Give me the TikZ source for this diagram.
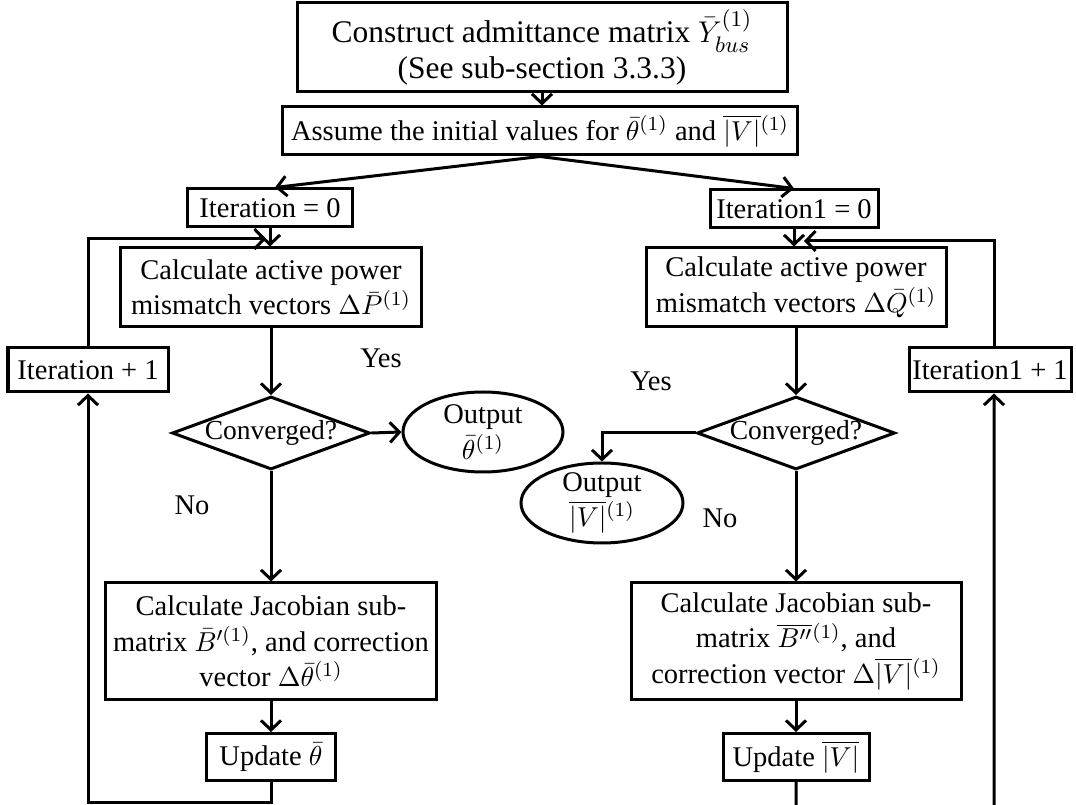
\documentclass[tikz,border=0pt]{standalone}
\usepackage{amsmath}
\usepackage{fontspec}
\setmainfont{Liberation Serif}
\usetikzlibrary{shapes.geometric,arrows.meta}
\newcommand\pxu{0.4pt}
\begin{document}
\begin{tikzpicture}[x=0.4pt,y=-0.4pt,
  font=\fontsize{11.4}{14.2}\selectfont,
  box/.style={draw, line width=1.2pt, rectangle, inner sep=0pt, align=center},
  dia/.style={draw, line width=1.2pt, diamond, inner sep=0pt},
  ell/.style={draw, line width=1.2pt, ellipse, inner sep=0pt},
  txt/.style={inner sep=0pt, align=center},
  arr/.style={line width=1.2pt, line join=miter, -{Straight Barb[length=3.8pt,width=8pt]}}]
\useasboundingbox (0,0) rectangle (1076,805);
% top part
\node[box, minimum width=490*\pxu, minimum height=89*\pxu, font=\fontsize{12.6}{14.5}\selectfont] (top) at (542,47.5)
  {Construct admittance matrix $\bar{Y}_{bus}^{(1)}$\\(See sub-section 3.3.3)};
\node[box, minimum width=515*\pxu, minimum height=48*\pxu] (asm) at (540,131)
  {Assume the initial values for $\bar{\theta}^{(1)}$ and $\overline{|V|}{}^{(1)}$};
\node[box, minimum width=165*\pxu, minimum height=38*\pxu] (it0) at (270,208) {Iteration = 0};
\node[box, minimum width=168*\pxu, minimum height=38*\pxu] (it1) at (794,209) {Iteration1 = 0};
% left column
\node[box, minimum width=301*\pxu, minimum height=79*\pxu] (calcL) at (271,287.5)
  {Calculate active power\\mismatch vectors $\Delta\bar{P}^{(1)}$};
\node[box, minimum width=160*\pxu, minimum height=44*\pxu] (itL) at (88,370) {Iteration + 1};
\node[dia, minimum width=198*\pxu, minimum height=73*\pxu,
  label={[txt, font=\fontsize{11}{13}\selectfont]center:Converged?}] (dL) at (271,433) {};
\node[ell, minimum width=160*\pxu, minimum height=80*\pxu,
  label={[txt]center:Output\\$\bar{\theta}^{(1)}$}] (eL) at (483,432) {};
\node[box, minimum width=331*\pxu, minimum height=117*\pxu] (jL) at (271,641.5)
  {Calculate Jacobian sub-\\matrix $\bar{B}'^{(1)}$, and correction\\vector $\Delta\bar{\theta}^{(1)}$};
\node[box, minimum width=129*\pxu, minimum height=47*\pxu] (uL) at (271,757) {Update $\bar{\theta}$};
% right column
\node[box, minimum width=300*\pxu, minimum height=79*\pxu] (calcR) at (796,287.5)
  {Calculate active power\\mismatch vectors $\Delta\bar{Q}^{(1)}$};
\node[box, minimum width=162*\pxu, minimum height=44*\pxu] (itR) at (990,370) {Iteration1 + 1};
\node[dia, minimum width=198*\pxu, minimum height=73*\pxu,
  label={[txt, font=\fontsize{11}{13}\selectfont]center:Converged?}] (dR) at (796,433) {};
\node[ell, minimum width=162*\pxu, minimum height=80*\pxu,
  label={[txt]center:Output\\$\overline{|V|}{}^{(1)}$}] (eR) at (602,503) {};
\node[box, minimum width=330*\pxu, minimum height=117*\pxu] (jR) at (796,641.5)
  {Calculate Jacobian sub-\\matrix $\overline{B''}{}^{(1)}$, and\\correction vector $\Delta\overline{|V|}{}^{(1)}$};
\node[box, minimum width=146*\pxu, minimum height=47*\pxu] (uR) at (796,757) {Update $\overline{|V|}$};
% labels
\node[txt] (yesL) at (381,358) {Yes};
\node[txt] (yesR) at (651,381) {Yes};
\node[txt] (noL) at (192,505) {No};
\node[txt] (noR) at (720,518) {No};
% coordinates
\coordinate (jl) at (266,239);
\coordinate (jr) at (804,241);
\coordinate (bl) at (88,803);
\coordinate (br) at (994,830);
% connectors
\draw[arr] (top.south) -- (top.south |- asm.north);
\draw[arr] (asm.south) -- ([xshift=2pt]it0.north);
\draw[arr] (asm.south) -- (it1.north);
\draw[arr] (it0.south) -- (it0.south |- calcL.north);
\draw[arr] (itL.north) |- (jl);
\draw[arr] (calcL.south) -- (dL.north);
\draw[arr] (dL.east) -- (eL.west);
\draw[arr] (dL.south) -- (jL.north);
\draw[arr] (jL.south) -- (uL.north);
\draw[arr] (uL.south) |- (bl) -- (itL.south);
\draw[arr] (it1.south) -- (it1.south |- calcR.north);
\draw[arr] ([xshift=1.6pt]itR.north) |- (jr);
\draw[arr] (calcR.south) -- (dR.north);
\draw[arr] (dR.west) -| (eR.north);
\draw[arr] (dR.south) -- (jR.north);
\draw[arr] (jR.south) -- (uR.north);
\draw[arr] (uR.south) |- (br) -- ([xshift=1.6pt]itR.south);
\end{tikzpicture}
\end{document}
